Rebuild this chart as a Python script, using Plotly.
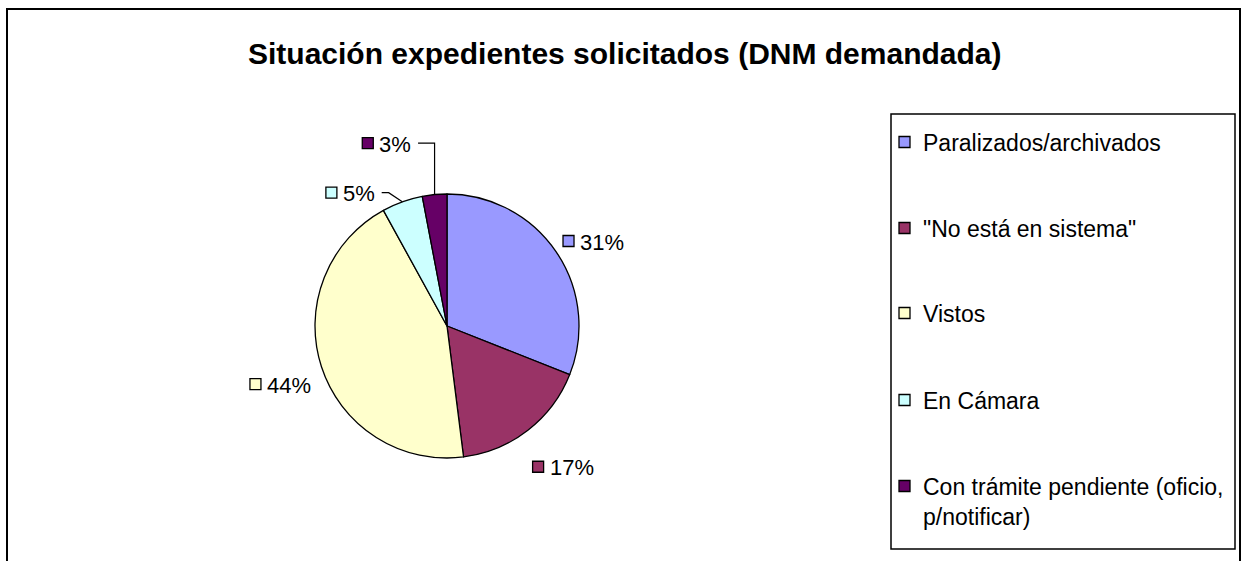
import math
import plotly.graph_objects as go

categories = ["Paralizados/archivados", "\"No está en sistema\"", "Vistos", "En Cámara",
              "Con trámite pendiente (oficio,<br>p/notificar)"]
values = [31, 17, 44, 5, 3]
colors = ["#9999FF", "#993366", "#FFFFCC", "#CCFFFF", "#660066"]
title = "Situación expedientes solicitados (DNM demandada)"

W, H = 1243, 561
CX, CY, R = 447, 326, 132           # pie centre / radius in pixels
label_rad = [1.28, 1.38, 1.34, 1.25, 1.46]   # label distance (x radius)
label_dang = [4.0, -1.6, -1.2, -16.3, -13.0] # angular nudge (deg)
FONT = "Liberation Sans, Arial, sans-serif"
PCT_SIZE = 22

def px(x):
    return x / W

def py(y):
    return 1 - y / H

fig = go.Figure()
fig.add_trace(go.Pie(
    labels=categories, values=values, sort=False, direction="clockwise", rotation=0,
    marker=dict(colors=colors, line=dict(color="black", width=1.3)),
    textinfo="none", hoverinfo="label+percent", showlegend=False,
    domain=dict(x=[px(CX - R), px(CX + R)], y=[py(CY + R), py(CY - R)]),
))

shapes = []
annotations = []
# outer chart border
shapes.append(dict(type="rect", xref="paper", yref="paper", x0=px(7), x1=px(1240), y0=py(575), y1=py(9),
                   line=dict(color="black", width=2)))

total = sum(values)
cum = 0
for i, v in enumerate(values):
    a0 = cum / total * 360
    cum += v
    a1 = cum / total * 360
    mid = (a0 + a1) / 2
    la = math.radians(mid + label_dang[i])
    lx = CX + R * label_rad[i] * math.sin(la)
    ly = CY - R * label_rad[i] * math.cos(la)
    pct = f"{round(v / total * 100)}%"
    # label: square + text, centred on (lx, ly)
    tw = PCT_SIZE * (0.556 * (len(pct) - 1) + 0.889)
    sq = 11
    gap = 5
    x_sq = lx - (sq + gap + tw) / 2
    shapes.append(dict(type="rect", xref="paper", yref="paper",
                       x0=px(x_sq), x1=px(x_sq + sq), y0=py(ly + sq / 2), y1=py(ly - sq / 2),
                       fillcolor=colors[i], line=dict(color="black", width=1.3)))
    annotations.append(dict(x=px(x_sq + sq + gap - 1), y=py(ly + 1), xref="paper", yref="paper",
                            text=pct, showarrow=False, xanchor="left", yanchor="middle",
                            font=dict(family=FONT, size=PCT_SIZE, color="black")))
    # leader lines for the small slices
    if v / total < 0.06:
        mr = math.radians(mid)
        ex = CX + R * math.sin(mr)
        ey = CY - R * math.cos(mr)
        tx = lx + (sq + gap + tw) / 2 + 8
        if i == 4:
            path = f"M {px(tx)} {py(ly)} L {px(ex)} {py(ly)} L {px(ex)} {py(ey)}"
        else:
            path = f"M {px(tx)} {py(ly)} L {px(tx + 7)} {py(ly)} L {px(ex)} {py(ey)}"
        shapes.append(dict(type="path", xref="paper", yref="paper", path=path,
                           line=dict(color="black", width=1.2)))

# custom legend
LX0, LX1, LY0, LY1 = 891, 1235, 114, 549
shapes.append(dict(type="rect", xref="paper", yref="paper", x0=px(LX0), x1=px(LX1), y0=py(LY1), y1=py(LY0),
                   line=dict(color="black", width=1.5), fillcolor="white", layer="below"))
item_y = [142, 228, 313, 400, 486]
for i, cat in enumerate(categories):
    y = item_y[i]
    shapes.append(dict(type="rect", xref="paper", yref="paper",
                       x0=px(899), x1=px(910), y0=py(y + 5.5), y1=py(y - 5.5),
                       fillcolor=colors[i], line=dict(color="black", width=1.3)))
    annotations.append(dict(x=px(921), y=py(y - 14), xref="paper", yref="paper",
                            text=cat, showarrow=False, xanchor="left", yanchor="top", align="left",
                            font=dict(family=FONT, size=23, color="black")))

annotations.append(dict(x=px(625), y=py(53), xref="paper", yref="paper", text=f"<b>{title}</b>",
                        showarrow=False, xanchor="center", yanchor="middle",
                        font=dict(family=FONT, size=30, color="black")))

fig.update_layout(
    width=W, height=H, margin=dict(l=0, r=0, t=0, b=0),
    paper_bgcolor="white", plot_bgcolor="white",
    shapes=shapes, annotations=annotations,
)
fig.write_html("out.html", config={"displayModeBar": False},
               post_script="document.body.style.margin='0';")
